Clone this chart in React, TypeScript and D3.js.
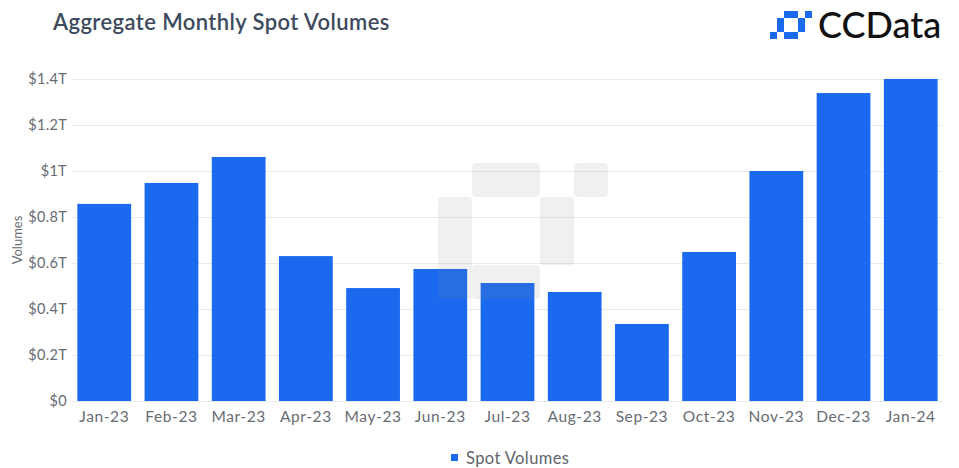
import * as d3 from "d3";
import { useEffect, useMemo, useRef } from "react";

const WIDTH = 959;
const HEIGHT = 468;
const MARGIN = { top: 79, right: 16, bottom: 67, left: 72 };

const months = [
  "Jan-23", "Feb-23", "Mar-23", "Apr-23", "May-23", "Jun-23", "Jul-23",
  "Aug-23", "Sep-23", "Oct-23", "Nov-23", "Dec-23", "Jan-24",
];
// spot volumes in trillions of USD
const spotVolumes = [0.857, 0.948, 1.061, 0.63, 0.491, 0.574, 0.513, 0.474, 0.335, 0.648, 1.0, 1.339, 1.4];
const yTicks = [0, 0.2, 0.4, 0.6, 0.8, 1, 1.2, 1.4];

const BLUE = "#1b69ee";
const FONT = "Lato, 'Noto Sans', sans-serif";

// logo blocks in grid cells: [col, row, w, h]
const logoCells = [
  [0, 3, 1, 1],
  [1, 1, 1, 2],
  [2, 0, 2, 1],
  [4, 1, 1, 2],
  [2, 3, 2, 1],
  [5, 0, 1, 1],
];
// watermark blocks (bigger version of the logo)
const markCells = [
  [0, 1, 1, 3],
  [1, 0, 2, 1],
  [3, 1, 1, 2],
  [1, 3, 2, 1],
  [4, 0, 1, 1],
];

const fmt = (v: number) => (v === 0 ? "$0" : `$${d3.format("~g")(v)}T`);

export const BarChart = () => {
  const boundsWidth = WIDTH - MARGIN.left - MARGIN.right;
  const boundsHeight = HEIGHT - MARGIN.top - MARGIN.bottom;

  const xScale = useMemo(
    () => d3.scaleBand().domain(months).range([0, boundsWidth]).paddingInner(0.2).paddingOuter(0.08),
    [boundsWidth]
  );
  const yScale = useMemo(
    () => d3.scaleLinear().domain([0, 1.4]).range([boundsHeight, 0]),
    [boundsHeight]
  );

  const axesRef = useRef<SVGGElement>(null);
  useEffect(() => {
    const g = d3.select(axesRef.current);
    g.selectAll("*").remove();

    // y axis: labels + gridlines
    const yAxis = g.append("g").call(
      d3.axisLeft(yScale).tickValues(yTicks).tickFormat((d) => fmt(+d)).tickSize(-boundsWidth).tickPadding(5)
    );
    yAxis.select(".domain").remove();
    yAxis.selectAll(".tick line").attr("stroke", "#e9eaec");
    yAxis.selectAll(".tick text").attr("fill", "#676b72").attr("font-size", 14.5).attr("font-family", FONT)
      .attr("letter-spacing", 0.3);

    // x axis
    const xAxis = g.append("g").attr("transform", `translate(0,${boundsHeight})`)
      .call(d3.axisBottom(xScale).tickSize(0).tickPadding(10));
    xAxis.select(".domain").remove();
    xAxis.selectAll(".tick text").attr("fill", "#676b72").attr("font-size", 15.5).attr("font-family", FONT)
      .attr("letter-spacing", 0.6);
  }, [xScale, yScale, boundsWidth, boundsHeight]);

  const cell = 34;
  const markX = 438 - MARGIN.left;
  const markY = 163 - MARGIN.top;

  return (
    <svg width={WIDTH} height={HEIGHT} style={{ position: "absolute", left: 0, top: 0, background: "#fff" }}>
      <text x={53} y={30} fontFamily={FONT} fontSize={22} fontWeight={600} fill="#3e4a5d" letterSpacing={0.4}>
        Aggregate Monthly Spot Volumes
      </text>

      {/* logo */}
      <g transform="translate(770,11)">
        {logoCells.map(([c, r, w, h], i) => (
          <rect key={i} x={c * 7} y={r * 7} width={w * 7} height={h * 7} fill={BLUE} />
        ))}
      </g>
      <text x={818} y={38} fontFamily={FONT} fontSize={36} fontWeight={500} fill="#111">
        CCData
      </text>

      <text
        transform="translate(22,240) rotate(-90)"
        textAnchor="middle"
        fontFamily={FONT}
        fontSize={13}
        fill="#676b72"
      >
        Volumes
      </text>

      <g ref={axesRef} transform={`translate(${MARGIN.left},${MARGIN.top})`} />

      <g transform={`translate(${MARGIN.left},${MARGIN.top})`}>
        {months.map((m, i) => (
          <rect
            key={m}
            x={xScale(m)}
            y={yScale(spotVolumes[i])}
            width={xScale.bandwidth()}
            height={boundsHeight - yScale(spotVolumes[i])}
            fill={BLUE}
          />
        ))}
        {/* faint watermark */}
        <g transform={`translate(${markX},${markY})`} opacity={0.12}>
          {markCells.map(([c, r, w, h], i) => (
            <rect key={i} x={c * cell} y={r * cell} width={w * cell} height={h * cell} rx={4} fill="#8a8e95" />
          ))}
        </g>
      </g>

      {/* legend */}
      <rect x={451} y={454} width={7} height={7} fill={BLUE} />
      <text x={466} y={464} fontFamily={FONT} fontSize={16.5} fill="#5f636a" letterSpacing={0.4}>
        Spot Volumes
      </text>
    </svg>
  );
};

export default function App() {
  return (
    <div>
      <BarChart />
    </div>
  );
}
